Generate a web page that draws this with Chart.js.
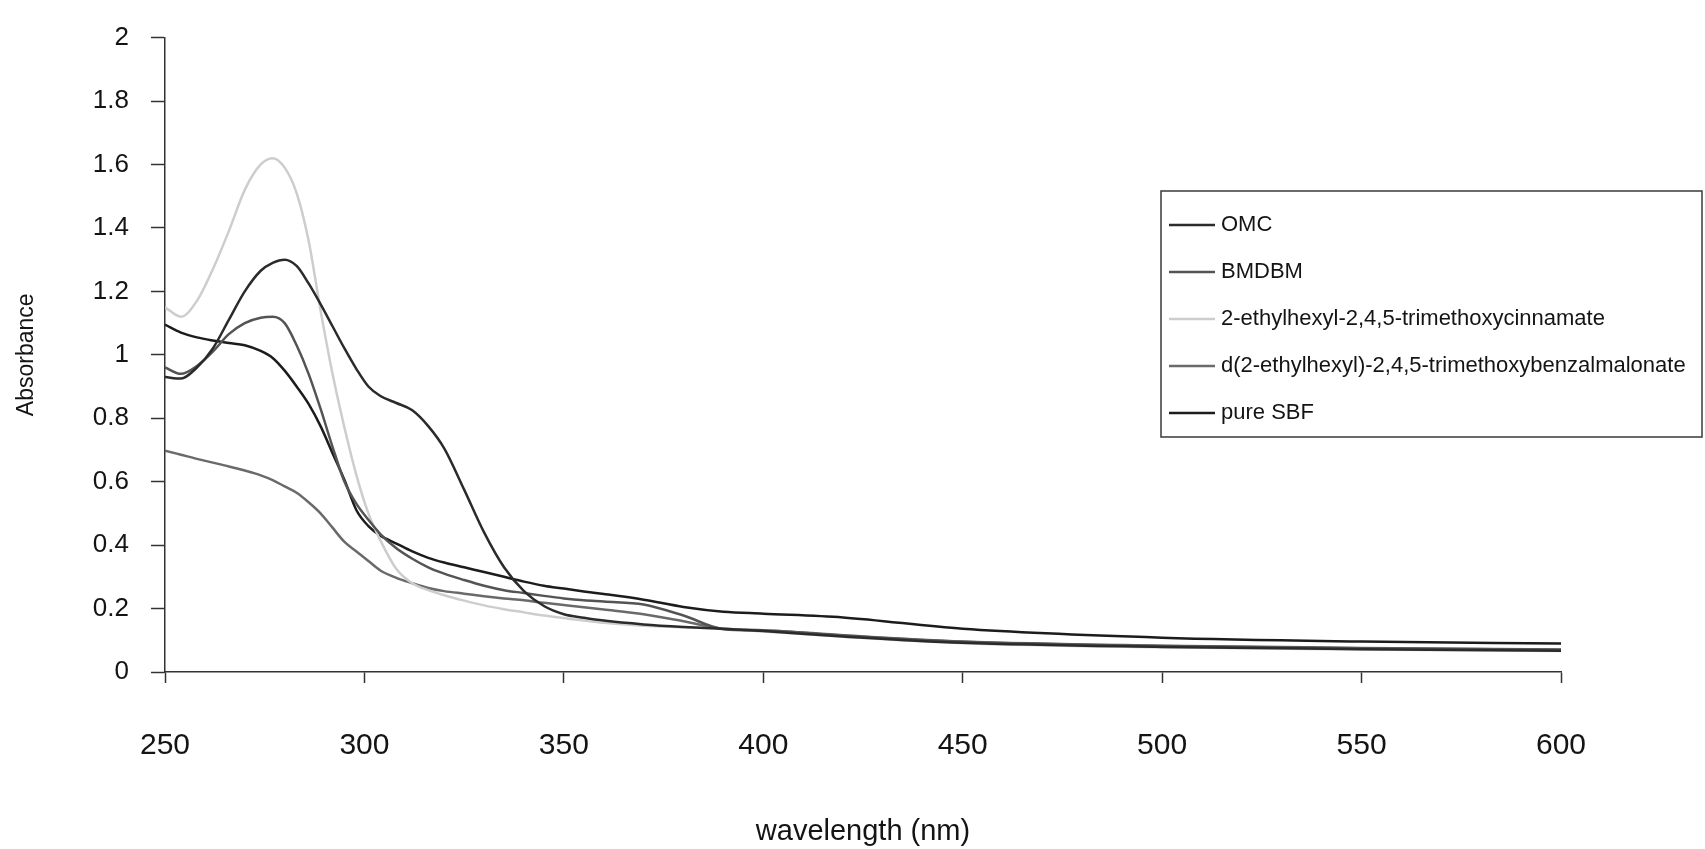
<!DOCTYPE html>
<html>
<head>
<meta charset="utf-8">
<script src="https://cdn.jsdelivr.net/npm/chart.js@4.4.0/dist/chart.umd.min.js"></script>
<style>
    body { margin: 0; background: #ffffff; }
</style>
</head>
<body>
<canvas id="myChart" width="1705" height="849"></canvas>
<script>
// wavelengths (nm) shared by every series
const wavelengths = [250, 254, 258, 262, 266, 270, 274, 277, 280, 283, 286, 289, 292, 295, 298, 301, 304, 308, 312, 316, 320, 325, 330, 335, 340, 345, 350, 355, 360, 370, 380, 390, 400, 420, 450, 500, 550, 600];

// absorbance
const omc        = [0.93, 0.925, 0.96, 1.02, 1.11, 1.20, 1.265, 1.29, 1.30, 1.28, 1.225, 1.16, 1.09, 1.02, 0.955, 0.90, 0.87, 0.848, 0.825, 0.775, 0.705, 0.575, 0.44, 0.33, 0.255, 0.208, 0.182, 0.171, 0.162, 0.15, 0.142, 0.136, 0.129, 0.112, 0.092, 0.079, 0.072, 0.067];
const bmdbm      = [0.96, 0.94, 0.965, 1.01, 1.065, 1.10, 1.117, 1.12, 1.10, 1.03, 0.94, 0.83, 0.71, 0.60, 0.53, 0.48, 0.435, 0.39, 0.357, 0.33, 0.31, 0.29, 0.272, 0.258, 0.249, 0.24, 0.232, 0.226, 0.222, 0.213, 0.178, 0.135, 0.131, 0.115, 0.095, 0.082, 0.075, 0.07];
const trimethoxyCinnamate = [1.15, 1.12, 1.17, 1.27, 1.39, 1.52, 1.60, 1.62, 1.59, 1.51, 1.36, 1.14, 0.94, 0.77, 0.62, 0.50, 0.415, 0.325, 0.28, 0.258, 0.242, 0.225, 0.21, 0.198, 0.188, 0.178, 0.17, 0.162, 0.155, 0.146, 0.141, 0.136, 0.128, 0.111, 0.091, 0.078, 0.071, 0.066];
const benzalmalonate = [0.698, 0.685, 0.672, 0.66, 0.648, 0.635, 0.62, 0.605, 0.585, 0.565, 0.535, 0.50, 0.455, 0.41, 0.38, 0.35, 0.32, 0.297, 0.28, 0.265, 0.255, 0.247, 0.239, 0.232, 0.226, 0.218, 0.211, 0.204, 0.197, 0.182, 0.16, 0.136, 0.132, 0.116, 0.096, 0.083, 0.076, 0.071];
const pureSbf    = [1.095, 1.07, 1.055, 1.045, 1.037, 1.03, 1.012, 0.99, 0.95, 0.90, 0.845, 0.775, 0.69, 0.605, 0.51, 0.46, 0.43, 0.405, 0.38, 0.36, 0.345, 0.33, 0.315, 0.30, 0.285, 0.272, 0.263, 0.254, 0.246, 0.228, 0.205, 0.19, 0.184, 0.172, 0.136, 0.108, 0.096, 0.09];

const seriesNames = ['OMC', 'BMDBM', '2-ethylhexyl-2,4,5-trimethoxycinnamate', 'd(2-ethylhexyl)-2,4,5-trimethoxybenzalmalonate', 'pure SBF'];
const seriesValues = [omc, bmdbm, trimethoxyCinnamate, benzalmalonate, pureSbf];
const seriesColors = ['#2b2b2b', '#545454', '#cdcdcd', '#6a6a6a', '#1c1c1c'];

const xTicks = [250, 300, 350, 400, 450, 500, 550, 600];
const yTicks = [0, 0.2, 0.4, 0.6, 0.8, 1, 1.2, 1.4, 1.6, 1.8, 2];

const fontFamily = '"Liberation Sans", Arial, Helvetica, sans-serif';
const textColor = '#141414';

// legend in a framed box, drawn inside the plot like the excel original
const boxLegend = {
    id: 'boxLegend',
    afterDraw(chart) {
        const ctx = chart.ctx;
        ctx.save();
        ctx.fillStyle = '#ffffff';
        ctx.fillRect(1161, 191, 541, 246);
        ctx.strokeStyle = '#3a3a3a';
        ctx.lineWidth = 1.5;
        ctx.strokeRect(1161, 191, 541, 246);
        ctx.font = '22px ' + fontFamily;
        ctx.textBaseline = 'middle';
        chart.data.datasets.forEach((ds, i) => {
            const y = 225 + i * 47;
            ctx.strokeStyle = ds.borderColor;
            ctx.lineWidth = 2.5;
            ctx.beginPath();
            ctx.moveTo(1169, y);
            ctx.lineTo(1215, y);
            ctx.stroke();
            ctx.fillStyle = textColor;
            ctx.fillText(ds.label, 1221, y);
        });
        ctx.restore();
    }
};

const ctx = document.getElementById('myChart');

new Chart(ctx, {
    type: 'line',
    data: {
        datasets: seriesNames.map((name, i) => ({
            label: name,
            data: wavelengths.map((w, j) => ({ x: w, y: seriesValues[i][j] })),
            borderColor: seriesColors[i],
            borderWidth: 2.5,
            pointRadius: 0,
            cubicInterpolationMode: 'monotone',
            fill: false
        }))
    },
    options: {
        responsive: false,
        animation: false,
        layout: { padding: { top: 25, right: 144, left: 0, bottom: 0 } },
        plugins: {
            legend: { display: false },
            tooltip: { enabled: false }
        },
        scales: {
            x: {
                type: 'linear',
                min: 250,
                max: 600,
                afterBuildTicks: (scale) => { scale.ticks = xTicks.map(v => ({ value: v })); },
                afterFit: (scale) => { scale.height = 177; },
                grid: { drawOnChartArea: false, drawTicks: true, tickLength: 11, tickColor: '#333', tickWidth: 1.5 },
                border: { display: true, color: '#333', width: 1.5 },
                ticks: { padding: 45, color: textColor, font: { family: fontFamily, size: 30 }, maxRotation: 0 },
                title: { display: true, text: 'wavelength (nm)', color: textColor, font: { family: fontFamily, size: 29 }, padding: { top: 0, bottom: 0 } }
            },
            y: {
                min: 0,
                max: 2,
                afterBuildTicks: (scale) => { scale.ticks = yTicks.map(v => ({ value: v })); },
                afterFit: (scale) => { scale.width = 165; },
                grid: { drawOnChartArea: false, drawTicks: true, tickLength: 14, tickColor: '#333', tickWidth: 1.5 },
                border: { display: true, color: '#333', width: 1.5 },
                ticks: {
                    padding: 22,
                    color: textColor,
                    font: { family: fontFamily, size: 26 },
                    callback: (v) => String(Number(v.toFixed(1)))
                },
                title: { display: true, text: 'Absorbance', color: textColor, font: { family: fontFamily, size: 23 }, padding: { top: 13, bottom: 0 } }
            }
        }
    },
    plugins: [boxLegend]
});
</script>
</body>
</html>
